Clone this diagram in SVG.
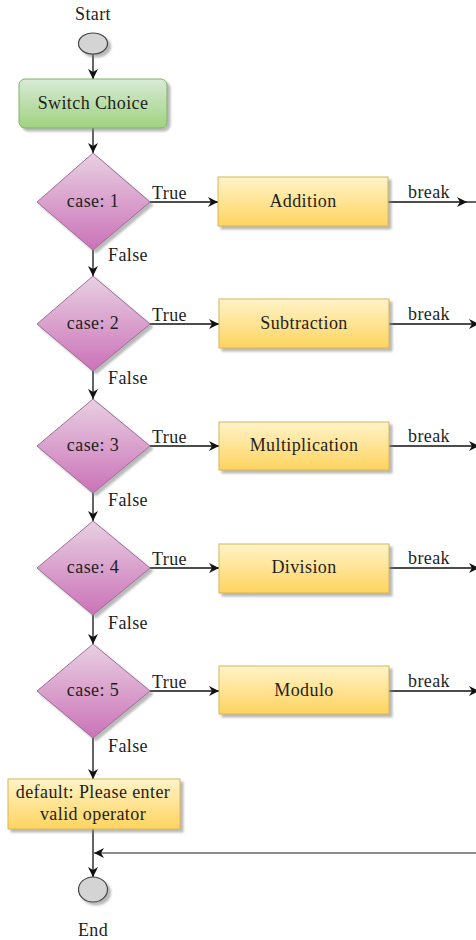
<svg xmlns="http://www.w3.org/2000/svg" width="476" height="940" viewBox="0 0 476 940" font-family="'Liberation Serif', 'DejaVu Serif', serif">
  <defs>
    <linearGradient id="gYellow" x1="0" y1="0" x2="0" y2="1">
      <stop offset="0" stop-color="#fff3c8"/>
      <stop offset="1" stop-color="#ffd45f"/>
    </linearGradient>
    <linearGradient id="gPurple" x1="0" y1="0" x2="0" y2="1">
      <stop offset="0" stop-color="#e8d0e2"/>
      <stop offset="1" stop-color="#cb72b8"/>
    </linearGradient>
    <linearGradient id="gGreen" x1="0" y1="0" x2="0" y2="1">
      <stop offset="0" stop-color="#d8ead6"/>
      <stop offset="1" stop-color="#9fd27f"/>
    </linearGradient>
    <filter id="shadow" x="-20%" y="-20%" width="150%" height="150%">
      <feDropShadow dx="3" dy="3" stdDeviation="1" flood-color="#808080" flood-opacity="0.55"/>
    </filter>
    <marker id="arrow" viewBox="0 0 10 10" refX="10" refY="5" markerWidth="10" markerHeight="10" markerUnits="userSpaceOnUse" orient="auto">
      <path d="M0,0 L10,5 L0,10 L3,5 Z" fill="#111"/>
    </marker>
  </defs>
  <style>
    text { font-family: "Liberation Serif", "DejaVu Serif", serif; font-size: 18px; letter-spacing: 0.4px; fill: #1e1e1e; }
    .mid { text-anchor: middle; }
    .box { fill: url(#gYellow); stroke: #d6b656; stroke-width: 1; filter: url(#shadow); }
    .dia { fill: url(#gPurple); stroke: #a06e97; stroke-width: 1; filter: url(#shadow); }
    .term { fill: #d4d4d4; stroke: #444; stroke-width: 1.2; filter: url(#shadow); }
    .edge { fill: none; stroke: #111; stroke-width: 1.3; }
    .ret { fill: none; stroke: #666; stroke-width: 1.3; }
  </style>

  <!-- connectors -->
  <g id="connectors">
    <line class="edge" x1="93" y1="54" x2="93" y2="79" marker-end="url(#arrow)"/>
    <line class="edge" x1="93" y1="128" x2="93" y2="153" marker-end="url(#arrow)"/>
    <!-- case 1 -->
    <line class="edge" x1="150" y1="202" x2="218" y2="202" marker-end="url(#arrow)"/>
    <line class="edge" x1="388" y1="202" x2="467" y2="202" marker-end="url(#arrow)"/>
    <line class="edge" x1="467" y1="202" x2="476" y2="202"/>
    <line class="edge" x1="93" y1="250" x2="93" y2="276" marker-end="url(#arrow)"/>
    <!-- case 2 -->
    <line class="edge" x1="150" y1="324" x2="219" y2="324" marker-end="url(#arrow)"/>
    <line class="edge" x1="389" y1="324" x2="479" y2="324" marker-end="url(#arrow)"/>
    <line class="edge" x1="93" y1="371" x2="93" y2="399" marker-end="url(#arrow)"/>
    <!-- case 3 -->
    <line class="edge" x1="150" y1="446" x2="219" y2="446" marker-end="url(#arrow)"/>
    <line class="edge" x1="389" y1="446" x2="479" y2="446" marker-end="url(#arrow)"/>
    <line class="edge" x1="93" y1="493" x2="93" y2="521" marker-end="url(#arrow)"/>
    <!-- case 4 -->
    <line class="edge" x1="150" y1="568" x2="219" y2="568" marker-end="url(#arrow)"/>
    <line class="edge" x1="389" y1="568" x2="479" y2="568" marker-end="url(#arrow)"/>
    <line class="edge" x1="93" y1="615" x2="93" y2="644" marker-end="url(#arrow)"/>
    <!-- case 5 -->
    <line class="edge" x1="150" y1="691" x2="219" y2="691" marker-end="url(#arrow)"/>
    <line class="edge" x1="389" y1="691" x2="479" y2="691" marker-end="url(#arrow)"/>
    <line class="edge" x1="93" y1="738" x2="93" y2="779" marker-end="url(#arrow)"/>
    <!-- default to end, and the merged break return -->
    <line class="edge" x1="93" y1="829" x2="93" y2="877" marker-end="url(#arrow)"/>
    <line class="ret" x1="476" y1="853" x2="94" y2="853" marker-end="url(#arrow)"/>

    <text x="152" y="199">True</text>
    <text x="152" y="321">True</text>
    <text x="152" y="443">True</text>
    <text x="152" y="565">True</text>
    <text x="152" y="688">True</text>
    <text x="408" y="198">break</text>
    <text x="408" y="320">break</text>
    <text x="408" y="442">break</text>
    <text x="408" y="564">break</text>
    <text x="408" y="687">break</text>
    <text x="108" y="261">False</text>
    <text x="108" y="384">False</text>
    <text x="108" y="506">False</text>
    <text x="108" y="629">False</text>
    <text x="108" y="752">False</text>
  </g>

  <g id="start">
    <text class="mid" x="93" y="20">Start</text>
    <ellipse class="term" cx="93" cy="43.5" rx="14.5" ry="10.5"/>
  </g>

  <g id="switch-choice">
    <rect x="19" y="79" width="148" height="49" rx="6" fill="url(#gGreen)" stroke="#82b366" stroke-width="1" filter="url(#shadow)"/>
    <text class="mid" x="93" y="109">Switch Choice</text>
  </g>

  <g id="case1">
    <polygon class="dia" points="93,153 150,202 93,250 37,202"/>
    <text class="mid" x="93" y="207">case: 1</text>
  </g>
  <g id="addition">
    <rect class="box" x="218" y="177" width="170" height="49"/>
    <text class="mid" x="303" y="207">Addition</text>
  </g>

  <g id="case2">
    <polygon class="dia" points="93,276 150,324 93,371 37,324"/>
    <text class="mid" x="93" y="329">case: 2</text>
  </g>
  <g id="subtraction">
    <rect class="box" x="219" y="299" width="170" height="49"/>
    <text class="mid" x="304" y="329">Subtraction</text>
  </g>

  <g id="case3">
    <polygon class="dia" points="93,399 150,446 93,493 37,446"/>
    <text class="mid" x="93" y="451">case: 3</text>
  </g>
  <g id="multiplication">
    <rect class="box" x="219" y="422" width="170" height="48"/>
    <text class="mid" x="304" y="451">Multiplication</text>
  </g>

  <g id="case4">
    <polygon class="dia" points="93,521 150,568 93,615 37,568"/>
    <text class="mid" x="93" y="573">case: 4</text>
  </g>
  <g id="division">
    <rect class="box" x="219" y="544" width="170" height="49"/>
    <text class="mid" x="304" y="573">Division</text>
  </g>

  <g id="case5">
    <polygon class="dia" points="93,644 150,691 93,738 37,691"/>
    <text class="mid" x="93" y="696">case: 5</text>
  </g>
  <g id="modulo">
    <rect class="box" x="219" y="666" width="170" height="48"/>
    <text class="mid" x="304" y="696">Modulo</text>
  </g>

  <g id="default">
    <rect class="box" x="8" y="779" width="172" height="50"/>
    <text class="mid" x="93" y="798">default: Please enter</text>
    <text class="mid" x="93" y="820">valid operator</text>
  </g>

  <g id="end">
    <ellipse class="term" cx="93" cy="889.5" rx="14.5" ry="12.5"/>
    <text class="mid" x="93" y="936">End</text>
  </g>
</svg>
